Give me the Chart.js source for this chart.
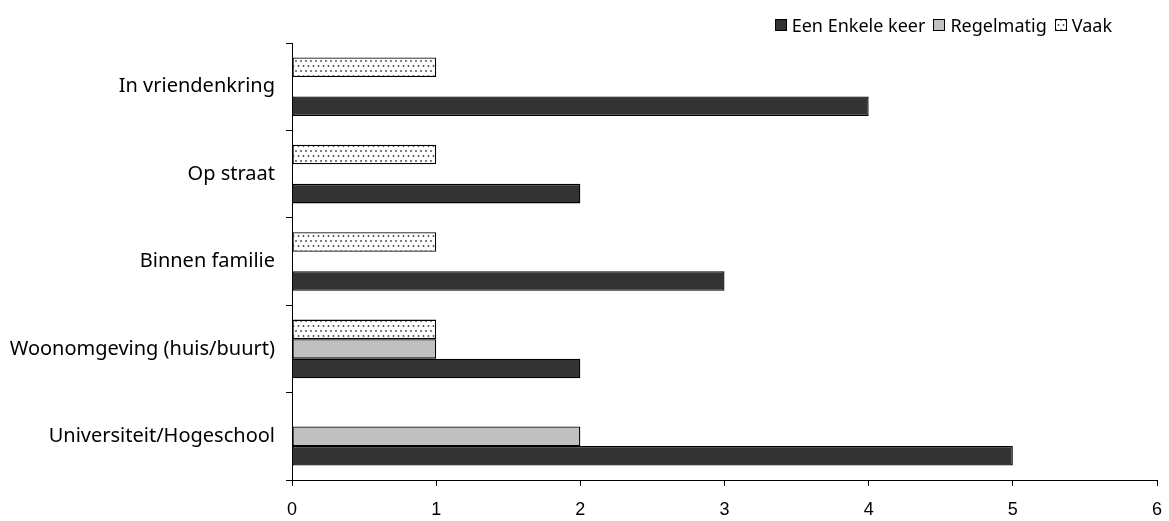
<!DOCTYPE html>
<html>
<head>
<meta charset="utf-8">
<script src="https://cdn.jsdelivr.net/npm/chart.js@4/dist/chart.umd.min.js"></script>
<style>
  body { margin: 0; background: #fff; }
  #wrap { position: relative; width: 1169px; height: 521px; }
  #legend { position: absolute; top: 13px; right: 57px; font-family: "Noto Sans", sans-serif; font-size: 18px; color: #000; display: flex; align-items: center; white-space: nowrap; }
  #legend span.item { display: flex; align-items: center; margin-left: 8px; }
  #legend canvas { width: 12px; height: 12px; margin-right: 5px; }
</style>
</head>
<body>
<div id="wrap">
  <canvas id="chart" width="1169" height="521"></canvas>
  <div id="legend"></div>
</div>
<script>
// DATA
const categories = ['In vriendenkring', 'Op straat', 'Binnen familie', 'Woonomgeving (huis/buurt)', 'Universiteit/Hogeschool'];
const seriesNames = ['Een Enkele keer', 'Regelmatig', 'Vaak'];
const enkeleKeer = [4, 2, 3, 2, 5];
const regelmatig = [null, null, null, 1, 2];
const vaak = [1, 1, 1, 1, null];
const xTicks = [0, 1, 2, 3, 4, 5, 6];

// dotted fill for "Vaak"
function dotPattern() {
    const c = document.createElement('canvas');
    c.width = 10;
    c.height = 10;
    const g = c.getContext('2d');
    g.fillStyle = '#fff';
    g.fillRect(0, 0, 10, 10);
    g.fillStyle = '#444';
    [[1, 1], [6, 1], [3.5, 6], [8.5, 6]].forEach(p => {
        g.beginPath();
        g.arc(p[0], p[1], 0.9, 0, Math.PI * 2);
        g.fill();
    });
    return document.getElementById('chart').getContext('2d').createPattern(c, 'repeat');
}

const fills = ['#333333', '#c0c0c0', dotPattern()];

// LEGEND (html)
const legendEl = document.getElementById('legend');
seriesNames.forEach((name, i) => {
    const item = document.createElement('span');
    item.className = 'item';
    const box = document.createElement('canvas');
    box.width = 12;
    box.height = 12;
    const g = box.getContext('2d');
    g.fillStyle = fills[i];
    g.fillRect(0, 0, 12, 12);
    g.strokeStyle = '#000';
    g.lineWidth = 1;
    g.strokeRect(0.5, 0.5, 11, 11);
    item.appendChild(box);
    item.appendChild(document.createTextNode(name));
    legendEl.appendChild(item);
});

// CHART
const chart = new Chart(document.getElementById('chart'), {
    type: 'bar',
    data: {
        labels: categories,
        datasets: [
            { label: seriesNames[2], data: vaak, backgroundColor: fills[2] },
            { label: seriesNames[1], data: regelmatig, backgroundColor: fills[1] },
            { label: seriesNames[0], data: enkeleKeer, backgroundColor: fills[0] }
        ].map(d => Object.assign(d, {
            borderColor: '#000',
            borderWidth: 1.3,
            borderSkipped: false,
            categoryPercentage: 0.67,
            barPercentage: 1
        }))
    },
    options: {
        indexAxis: 'y',
        responsive: false,
        animation: false,
        layout: { padding: { top: 43, right: 12, left: 0, bottom: 0 } },
        plugins: { legend: { display: false }, tooltip: { enabled: false } },
        scales: {
            x: {
                min: 0,
                max: 6,
                afterBuildTicks: axis => { axis.ticks = xTicks.map(v => ({ value: v })); },
                afterFit: axis => { axis.height = 41; axis.paddingRight = 0; axis.paddingLeft = 0; },
                border: { color: '#000', width: 1 },
                grid: { drawOnChartArea: false, color: '#000', tickLength: 6 },
                ticks: { color: '#000', padding: 13, font: { family: '"Liberation Sans", Arial, sans-serif', size: 18 } }
            },
            y: {
                afterFit: axis => { axis.width = 292; },
                border: { color: '#000', width: 1 },
                grid: { drawOnChartArea: false, offset: true, color: '#000', tickLength: 6 },
                ticks: { color: '#000', padding: 11, font: { family: '"Noto Sans", sans-serif', size: 20 } }
            }
        }
    }
});
</script>
</body>
</html>
